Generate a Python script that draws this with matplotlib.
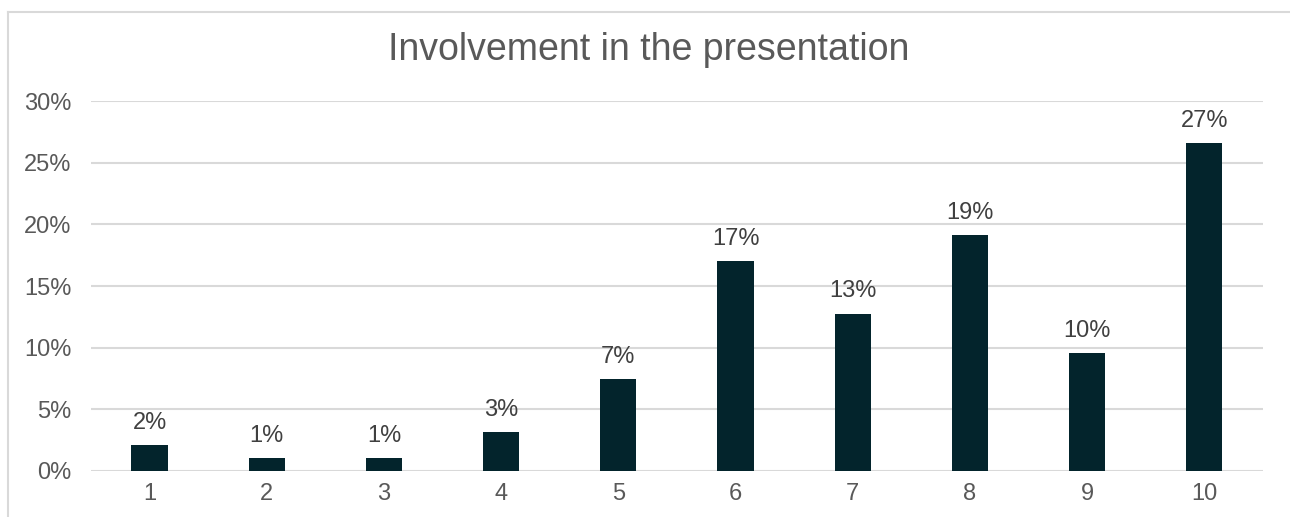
import matplotlib.pyplot as plt
from matplotlib.lines import Line2D
from matplotlib.ticker import PercentFormatter

# responses per score (94 in total)
scores = ['1', '2', '3', '4', '5', '6', '7', '8', '9', '10']
counts = [2, 1, 1, 3, 7, 16, 12, 18, 9, 25]
total = sum(counts)
shares = [c / total for c in counts]

plt.rcParams['font.family'] = ['Liberation Sans', 'DejaVu Sans']

fig = plt.figure(figsize=(12.9, 5.17), dpi=100)
ax = fig.add_axes([0.0705, 0.089, 0.9085, 0.7156])

x = range(1, len(scores) + 1)
bars = ax.bar(x, shares, width=0.31, color='#03242c', zorder=3)

for b, v in zip(bars, shares):
    ax.annotate(f'{v:.0%}', (b.get_x() + b.get_width() / 2, v),
                xytext=(0, 8), textcoords='offset points',
                ha='center', va='bottom', fontsize=17, color='#404040')

ax.set_xlim(0.5, 10.5)
ax.set_ylim(0, 0.30)
ax.set_xticks(list(x))
ax.set_xticklabels(scores)
ax.set_yticks([0, 0.05, 0.10, 0.15, 0.20, 0.25, 0.30])
ax.yaxis.set_major_formatter(PercentFormatter(1.0, decimals=0))
ax.tick_params(length=0, labelsize=17, labelcolor='#595959')
ax.tick_params(axis='y', pad=14)
ax.tick_params(axis='x', pad=9)
ax.grid(axis='y', color='#d9d9d9', linewidth=1.5, zorder=0)
for s in ax.spines.values():
    s.set_visible(False)

fig.text(649 / 1290, 1 - 60 / 517, 'Involvement in the presentation',
         ha='center', va='baseline', fontsize=27, color='#595959')

# light frame: top and left edges only, the rest runs off the canvas
fx = 7.5 / 1290
fy = 1 - 11.5 / 517
fig.add_artist(Line2D([fx, 1], [fy, fy], transform=fig.transFigure,
                      color='#d9d9d9', linewidth=1.5))
fig.add_artist(Line2D([fx, fx], [0, fy], transform=fig.transFigure,
                      color='#d9d9d9', linewidth=1.5))

fig.savefig('out.png', dpi=100)
